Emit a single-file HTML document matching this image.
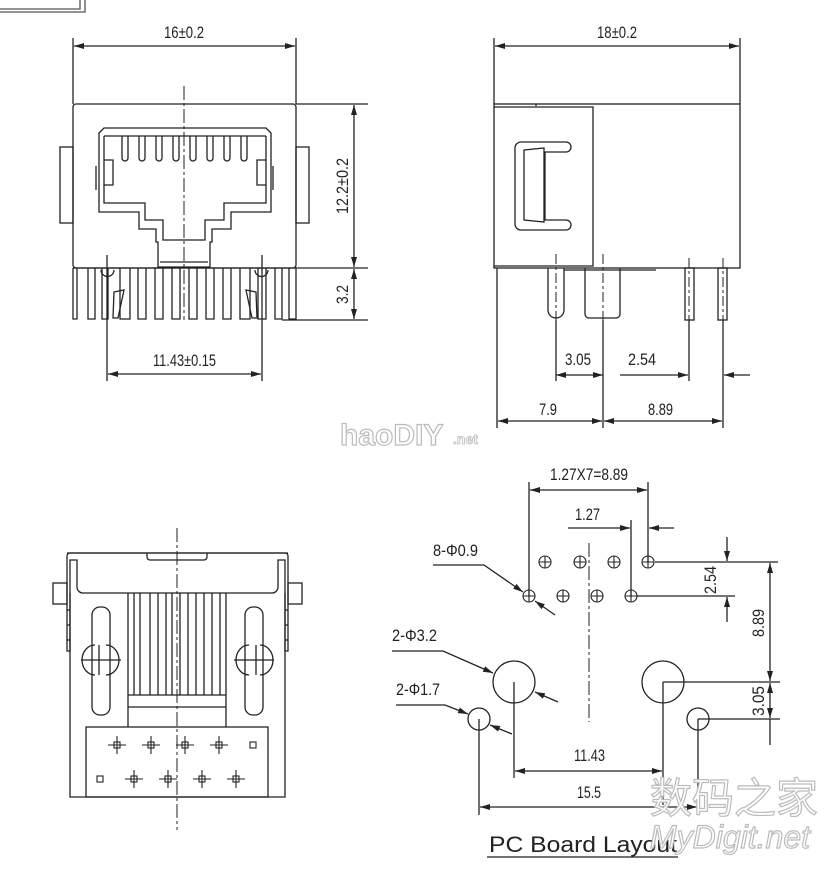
<!DOCTYPE html>
<html><head><meta charset="utf-8"><style>
html,body{margin:0;padding:0;background:#fff;}
svg{display:block}
text{font-family:"Liberation Sans Narrow","Liberation Sans",sans-serif;fill:#222}
</style></head><body>
<svg width="826" height="873" viewBox="0 0 826 873" xmlns="http://www.w3.org/2000/svg">
<defs>
<marker id="a" viewBox="0 0 10 6" refX="10" refY="3" markerWidth="10" markerHeight="6" orient="auto-start-reverse" markerUnits="userSpaceOnUse"><path d="M0,0L10,3L0,6z" fill="#222"/></marker>
</defs>
<g stroke="#222" stroke-width="1.3" fill="none">
<path d="M0,12H85V0M0,9H80V0" stroke="#555"/>

<!-- TOP LEFT VIEW -->
<line x1="73" y1="38" x2="73" y2="104"/><line x1="296" y1="38" x2="296" y2="104"/>
<line x1="74" y1="46" x2="295" y2="46" marker-start="url(#a)" marker-end="url(#a)"/>
<rect x="73" y="104" width="223" height="164" rx="3"/>
<rect x="60" y="147" width="13" height="76"/><rect x="296" y="147" width="13" height="76"/>
<path d="M99,133L104,128H266L271,133V212H231V229H212V242H210V267H158V242H156V229H139V212H99Z"/>
<path d="M104,136H266M104,136V203H145V220H163V240H205V220H224V203H266V136"/>
<path d="M104,160H113V185H104M266,160H257V185H266"/>
<path d="M96,166V190M273,166V190"/>
<g>
<path d="M122,136V158a3,3 0 0 0 6,0V136"/><path d="M139,136V158a3,3 0 0 0 6,0V136"/><path d="M156,136V158a3,3 0 0 0 6,0V136"/><path d="M173,136V158a3,3 0 0 0 6,0V136"/>
<path d="M190,136V158a3,3 0 0 0 6,0V136"/><path d="M207,136V158a3,3 0 0 0 6,0V136"/><path d="M224,136V158a3,3 0 0 0 6,0V136"/><path d="M241,136V158a3,3 0 0 0 6,0V136"/>
</g>
<path d="M160,262H208"/>
<line x1="73" y1="268" x2="296" y2="268"/>
<path d="M73,268V319H77V268M88,268V319H95V268M102,268V319H108V268M120,268V319H130V268M138,268V319H146V268M155,268V319H163V268M172,268V319H180V268M189,268V319H197V268M206,268V319H214V268M223,268V319H231V268M240,268V319H250V268M258,268V319H266V268M275,268V319H282V268M289,268V319H296V268"/>
<path d="M114,292L124,290L118,318H113Z M246,290L256,292L257,318H252Z"/>
<path d="M101,270a6,6 0 0 0 13,0M255,270a6,6 0 0 0 13,0"/>
<line x1="184" y1="86" x2="184" y2="320" stroke-dasharray="14,3,3,3" stroke-width="1"/>
<line x1="107" y1="255" x2="107" y2="381"/><line x1="262" y1="255" x2="262" y2="381"/>
<line x1="108" y1="374" x2="261" y2="374" marker-start="url(#a)" marker-end="url(#a)"/>
<line x1="296" y1="104" x2="368" y2="104"/><line x1="296" y1="268" x2="368" y2="268"/><line x1="282" y1="320" x2="368" y2="320"/>
<line x1="354" y1="105" x2="354" y2="267" marker-start="url(#a)" marker-end="url(#a)"/>
<line x1="354" y1="269" x2="354" y2="319" marker-start="url(#a)" marker-end="url(#a)"/>

<!-- TOP RIGHT VIEW -->
<line x1="494" y1="38" x2="494" y2="104"/><line x1="740" y1="38" x2="740" y2="104"/>
<line x1="495" y1="46" x2="739" y2="46" marker-start="url(#a)" marker-end="url(#a)"/>
<rect x="494" y="104" width="246" height="164"/>
<path d="M494,107H593V266H494"/>
<path d="M536,104V106"/>
<path d="M521,142H566a5,5 0 0 1 0,10H545V220H566a5,5 0 0 1 0,10H521a6,6 0 0 1 -6,-6V148a6,6 0 0 1 6,-6Z"/>
<path d="M524,150L544,148V222L524,220Z"/>
<path d="M548,268V310a8,8 0 0 0 16,0V268"/>
<path d="M585,268V314a4,4 0 0 0 4,4H616a4,4 0 0 0 4,-4V268"/>
<path d="M564,270H656"/>
<rect x="685" y="268" width="9" height="52"/><rect x="718" y="268" width="9" height="52"/>
<g stroke-width="1" stroke-dasharray="10,3,3,3"><line x1="556" y1="254" x2="556" y2="330"/><line x1="603" y1="254" x2="603" y2="330"/><line x1="689" y1="258" x2="689" y2="330"/><line x1="723" y1="258" x2="723" y2="330"/></g>
<line x1="497" y1="268" x2="497" y2="428"/><line x1="603" y1="320" x2="603" y2="428"/><line x1="723" y1="320" x2="723" y2="428"/>
<line x1="556" y1="320" x2="556" y2="381"/><line x1="689" y1="320" x2="689" y2="381"/>
<line x1="556" y1="375" x2="603" y2="375" marker-start="url(#a)" marker-end="url(#a)"/>
<line x1="620" y1="375" x2="688" y2="375" marker-end="url(#a)"/>
<line x1="750" y1="375" x2="724" y2="375" marker-end="url(#a)"/>
<line x1="498" y1="421" x2="602" y2="421" marker-start="url(#a)" marker-end="url(#a)"/>
<line x1="604" y1="421" x2="722" y2="421" marker-start="url(#a)" marker-end="url(#a)"/>

<!-- BOTTOM LEFT VIEW -->
<path d="M67,553H288"/>
<path d="M67,556a3,3 0 0 1 3,-3H285a3,3 0 0 1 3,3V651H285V560H278V587a6,6 0 0 1 -6,6H83a6,6 0 0 1 -6,-6V560H70V651H67Z"/>
<path d="M147,553V557a3,3 0 0 0 3,3H204a3,3 0 0 0 3,-3V553"/>
<rect x="53" y="583" width="14" height="21"/><rect x="288" y="583" width="14" height="21"/>
<path d="M70,593V797H285V593"/>
<path d="M67,610H70M67,625H70M67,640H70M285,610H288M285,625H288M285,640H288"/>
<path d="M128,593V727M226,593V727M128,695H226M128,707H226"/>
<path d="M134,593V695M140,593V695M150,593V695M158,593V695M166,593V695M172,593V695M180,593V695M188,593V695M196,593V695M204,593V695M212,593V695M220,593V695"/>
<rect x="86" y="727" width="182" height="70"/>
<rect x="92" y="607" width="18" height="108" rx="8"/><rect x="245" y="607" width="18" height="108" rx="8"/>
<path d="M95,645a13,15 0 0 0 0,30M106,645a13,15 0 0 1 0,30M81,660H121M99,645V675"/>
<path d="M260,645a13,15 0 0 1 0,30M249,645a13,15 0 0 0 0,30M234,660H274M256,645V675"/>
<g stroke-width="1.1">
<rect x="114" y="742" width="6" height="6"/><rect x="148" y="742" width="6" height="6"/><rect x="182" y="742" width="6" height="6"/><rect x="216" y="742" width="6" height="6"/><rect x="250" y="742" width="6" height="6"/>
<rect x="97" y="776" width="6" height="6"/><rect x="131" y="776" width="6" height="6"/><rect x="165" y="776" width="6" height="6"/><rect x="199" y="776" width="6" height="6"/><rect x="233" y="776" width="6" height="6"/>
<path d="M108,745H126M117,736V754M142,745H160M151,736V754M176,745H194M185,736V754M210,745H228M219,736V754"/>
<path d="M125,779H143M134,770V788M159,779H177M168,770V788M193,779H211M202,770V788M227,779H245M236,770V788"/>
</g>
<line x1="177" y1="528" x2="177" y2="830" stroke-dasharray="14,3,3,3" stroke-width="1"/>

<!-- PCB LAYOUT -->
<g stroke-width="1.1">
<circle cx="545" cy="562" r="6"/><circle cx="580" cy="562" r="6"/><circle cx="614" cy="562" r="6"/><circle cx="648" cy="562" r="6"/>
<circle cx="529" cy="596" r="6"/><circle cx="563" cy="596" r="6"/><circle cx="597" cy="596" r="6"/><circle cx="631" cy="596" r="6"/>
<path d="M539,562H551M545,556V568M574,562H586M580,556V568M608,562H620M614,556V568M642,562H654M648,556V568"/>
<path d="M523,596H535M529,590V602M557,596H569M563,590V602M591,596H603M597,590V602M625,596H637M631,590V602"/>
</g>
<circle cx="514" cy="682" r="21"/><circle cx="663" cy="682" r="21"/>
<circle cx="479" cy="719" r="11"/><circle cx="698" cy="719" r="11"/>
<line x1="589" y1="543" x2="589" y2="722" stroke-dasharray="14,3,3,3" stroke-width="1"/>
<line x1="529" y1="482" x2="529" y2="596"/><line x1="648" y1="482" x2="648" y2="562"/>
<line x1="530" y1="490" x2="647" y2="490" marker-start="url(#a)" marker-end="url(#a)"/>
<line x1="631" y1="520" x2="631" y2="596"/>
<line x1="568" y1="528" x2="630" y2="528" marker-end="url(#a)"/>
<line x1="674" y1="528" x2="649" y2="528" marker-end="url(#a)"/>
<line x1="655" y1="562" x2="778" y2="562"/><line x1="637" y1="596" x2="735" y2="596"/>
<line x1="727" y1="537" x2="727" y2="561" marker-end="url(#a)"/>
<line x1="727" y1="622" x2="727" y2="597" marker-end="url(#a)"/>
<line x1="770" y1="563" x2="770" y2="681" marker-start="url(#a)" marker-end="url(#a)"/>
<line x1="663" y1="682" x2="780" y2="682"/><line x1="698" y1="719" x2="780" y2="719"/>
<line x1="770" y1="683" x2="770" y2="718" marker-start="url(#a)" marker-end="url(#a)"/>
<line x1="770" y1="719" x2="770" y2="745"/>
<line x1="514" y1="682" x2="514" y2="778"/><line x1="663" y1="682" x2="663" y2="805"/>
<line x1="515" y1="771" x2="662" y2="771" marker-start="url(#a)" marker-end="url(#a)"/>
<line x1="479" y1="719" x2="479" y2="815"/><line x1="698" y1="719" x2="698" y2="815"/>
<line x1="480" y1="807" x2="697" y2="807" marker-start="url(#a)" marker-end="url(#a)"/>
<path d="M433,565H484L523,592" marker-end="url(#a)"/><line x1="555" y1="615" x2="535" y2="601" marker-end="url(#a)"/>
<path d="M392,651H443L493,673" marker-end="url(#a)"/><line x1="558" y1="702" x2="535" y2="692" marker-end="url(#a)"/>
<path d="M396,705H445L468,714" marker-end="url(#a)"/><line x1="512" y1="734" x2="490" y2="725" marker-end="url(#a)"/>
<line x1="487" y1="857" x2="678" y2="857"/>
</g>

<g font-size="17" lengthAdjust="spacingAndGlyphs">
<text x="164" y="38" textLength="40" lengthAdjust="spacingAndGlyphs">16±0.2</text>
<text x="153" y="366" textLength="63" lengthAdjust="spacingAndGlyphs">11.43±0.15</text>
<text transform="translate(348,214) rotate(-90)" textLength="56" lengthAdjust="spacingAndGlyphs">12.2±0.2</text>
<text transform="translate(348,304) rotate(-90)" textLength="19" lengthAdjust="spacingAndGlyphs">3.2</text>
<text x="597" y="38" textLength="40" lengthAdjust="spacingAndGlyphs">18±0.2</text>
<text x="565" y="365" textLength="26" lengthAdjust="spacingAndGlyphs">3.05</text>
<text x="628" y="365" textLength="28" lengthAdjust="spacingAndGlyphs">2.54</text>
<text x="539" y="415" textLength="18" lengthAdjust="spacingAndGlyphs">7.9</text>
<text x="648" y="415" textLength="25" lengthAdjust="spacingAndGlyphs">8.89</text>
<text x="550" y="480" textLength="78" lengthAdjust="spacingAndGlyphs">1.27X7=8.89</text>
<text x="575" y="520" textLength="25" lengthAdjust="spacingAndGlyphs">1.27</text>
<text x="433" y="556" textLength="45" lengthAdjust="spacingAndGlyphs">8-Φ0.9</text>
<text x="392" y="641" textLength="45" lengthAdjust="spacingAndGlyphs">2-Φ3.2</text>
<text x="396" y="695" textLength="44" lengthAdjust="spacingAndGlyphs">2-Φ1.7</text>
<text transform="translate(716,594) rotate(-90)" textLength="28" lengthAdjust="spacingAndGlyphs">2.54</text>
<text transform="translate(764,637) rotate(-90)" textLength="28" lengthAdjust="spacingAndGlyphs">8.89</text>
<text transform="translate(764,716) rotate(-90)" textLength="30" lengthAdjust="spacingAndGlyphs">3.05</text>
<text x="574" y="761" textLength="31" lengthAdjust="spacingAndGlyphs">11.43</text>
<text x="577" y="798" textLength="24" lengthAdjust="spacingAndGlyphs">15.5</text>
</g>
<text x="489" y="852" font-size="22" textLength="188" lengthAdjust="spacingAndGlyphs" style="font-family:'Liberation Sans',sans-serif">PC Board Layout</text>
<text x="340" y="445" font-size="30" font-weight="bold" style="font-family:'Liberation Sans',sans-serif;fill:#fff;stroke:#bbb;stroke-width:1.2">haoDIY</text>
<text x="453" y="444" font-size="14" font-weight="bold" style="font-family:'Liberation Sans',sans-serif;fill:#fff;stroke:#bbb;stroke-width:0.8">.net</text>
<text x="650" y="813" font-size="42" style="font-family:'Noto Sans CJK SC',sans-serif;fill:#fff;stroke:#bbb;stroke-width:1.2">数码之家</text>
<text x="650" y="848" font-size="32" font-style="italic" style="font-family:'Liberation Sans',sans-serif;fill:#fff;stroke:#bbb;stroke-width:1.2">MyDigit.net</text>
</svg>
</body></html>
